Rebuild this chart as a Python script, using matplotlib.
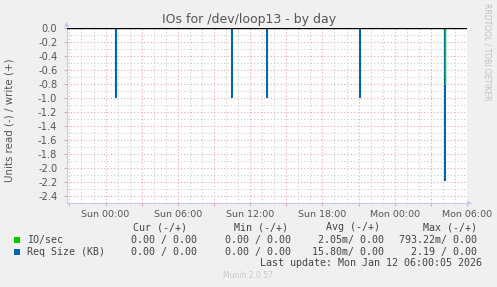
import numpy as np
import matplotlib
matplotlib.use("Agg")
import matplotlib.pyplot as plt
from matplotlib.patches import Rectangle

# ---- data (hours relative to Sun 00:00) ----
req_spike_hours = [0.9, 10.52, 13.43, 21.08, 28.2]
req_spike_values = [-1.0, -1.0, -1.0, -1.0, -2.19]
io_spike_hours = [28.2]
io_spike_values = [-0.793]

x_tick_hours = [0, 6, 12, 18, 24, 30]
x_tick_labels = ["Sun 00:00", "Sun 06:00", "Sun 12:00", "Sun 18:00", "Mon 00:00", "Mon 06:00"]
y_ticks = [0.0, -0.2, -0.4, -0.6, -0.8, -1.0, -1.2, -1.4, -1.6, -1.8, -2.0, -2.2, -2.4]

series_names = ["IO/sec", "Req Size (KB)"]
series_colors = ["#00cc00", "#0066b3"]
cur_vals = ["0.00 / 0.00", "0.00 / 0.00"]
min_vals = ["0.00 / 0.00", "0.00 / 0.00"]
avg_vals = ["2.05m/ 0.00", "15.80m/ 0.00"]
max_vals = ["793.22m/ 0.00", "2.19 / 0.00"]

W, H = 497, 287
fig = plt.figure(figsize=(W / 100, H / 100), dpi=100, facecolor="#f0f0f0")

def fx(x):
    return x / W

def fy(y):
    return 1 - y / H

L, R, T, B = 67, 467, 28, 203
ax = fig.add_axes([fx(L), fy(B), fx(R) - fx(L), fy(T) - fy(B)])
ax.set_facecolor("white")
xmin, xmax = -3.2, 30
ax.set_xlim(xmin, xmax)
ax.set_ylim(-2.5, 0.0)

# grids
for h in np.arange(-3, 31, 1):
    if h % 3 == 0:
        ax.axvline(h, color="#e8a8a8", lw=0.8, ls=(0, (1, 2)), zorder=1)
    else:
        ax.axvline(h, color="#cccccc", lw=0.8, ls=(0, (1, 2)), zorder=1)
for i in range(0, 25):
    v = -0.1 * i
    if i % 2 == 0:
        ax.axhline(v, color="#e8a8a8", lw=0.8, ls=(0, (1, 2)), zorder=1)
    else:
        ax.axhline(v, color="#cccccc", lw=0.8, ls=(0, (1, 2)), zorder=1)

# data
ax.vlines(req_spike_hours, 0, req_spike_values, color=series_colors[1], lw=1.5, zorder=3)
ax.vlines(io_spike_hours, 0, io_spike_values, color=series_colors[0], lw=1.0, zorder=4)
ax.axhline(0, color="black", lw=1.0, zorder=5)

# ticks
ax.set_yticks(y_ticks)
ax.set_yticklabels([f"{v:.1f}" for v in y_ticks], fontsize=7.1, color="#555555")
major_x = list(np.arange(-3, 31, 3))
ax.set_xticks(major_x)
lab = []
for h in major_x:
    lab.append(x_tick_labels[x_tick_hours.index(h)] if h in x_tick_hours else "")
ax.set_xticklabels(lab, fontsize=6.8, color="#555555")
ax.tick_params(axis="both", length=2, width=0.8, color="#e8a8a8", pad=3)
ax.tick_params(axis="y", pad=5)

for s in ["top", "right"]:
    ax.spines[s].set_visible(False)
ax.spines["left"].set_color("#c8c8f0")
ax.spines["bottom"].set_color("#c8c8f0")

# arrows
fig.text(fx(67), fy(24), "▲", fontsize=5, color="#c8c8f0", ha="center", va="center")
fig.text(fx(470), fy(203), "▶", fontsize=5, color="#c8c8f0", ha="center", va="center")

# title and labels
fig.text(fx(249), fy(19), "IOs for /dev/loop13 - by day", fontsize=9, color="#555555",
         ha="center", va="center")
fig.text(fx(10), fy(120), "Units read (-) / write (+)", fontsize=7.4, color="#555555",
         rotation=90, ha="center", va="center")
fig.text(fx(487), fy(52), "RRDTOOL / TOBI OETIKER", fontsize=5.5, color="#c0c0c0",
         rotation=-90, ha="center", va="center")

# legend
mono = "DejaVu Sans Mono"
fs = 7.2
tc = "#444444"
headers = [("Cur (-/+)", 187), ("Min (-/+)", 288), ("Avg (-/+)", 380), ("Max (-/+)", 477)]
for txt, xr in headers:
    fig.text(fx(xr), fy(227), txt, family=mono, fontsize=fs, color=tc, ha="right", va="center")
rows_y = [240, 252]
for i in range(2):
    y = rows_y[i]
    fig.patches.append(Rectangle((fx(14), fy(y + 3)), fx(6), 6 / H, transform=fig.transFigure,
                                 facecolor=series_colors[i], edgecolor="none"))
    fig.text(fx(27), fy(y), series_names[i], family=mono, fontsize=fs, color=tc, ha="left", va="center")
    for vals, xr in [(cur_vals, 197), (min_vals, 291), (avg_vals, 384), (max_vals, 477)]:
        fig.text(fx(xr), fy(y), vals[i], family=mono, fontsize=fs, color=tc, ha="right", va="center")
fig.text(fx(482), fy(263.5), "Last update: Mon Jan 12 06:00:05 2026", family=mono, fontsize=fs,
         color=tc, ha="right", va="center")
fig.text(fx(248), fy(276), "Munin 2.0.57", fontsize=5.5, color="#c8c8c8", ha="center", va="center")

fig.savefig("out.png", dpi=100, facecolor=fig.get_facecolor())
